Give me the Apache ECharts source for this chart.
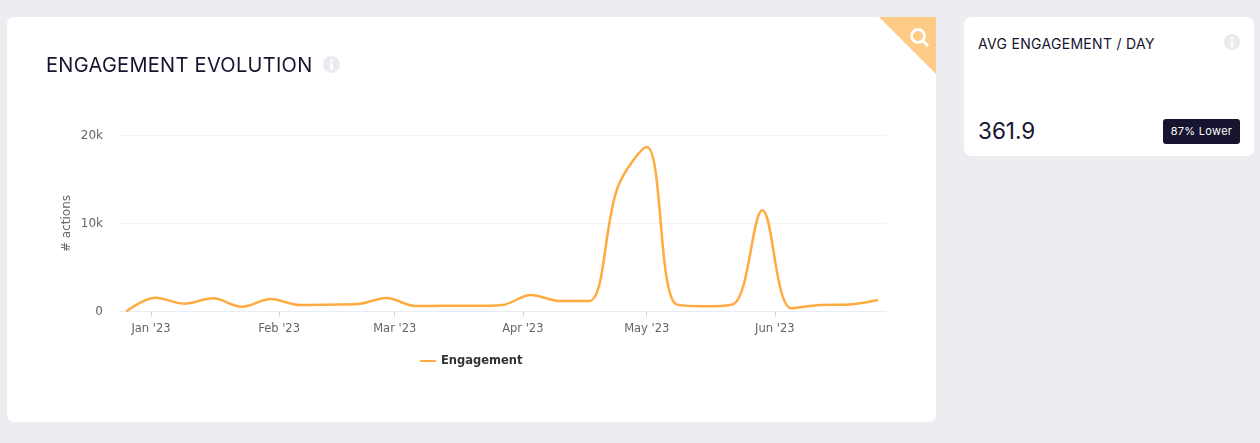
<!DOCTYPE html>
<html>
<head>
<meta charset="utf-8">
<title>Engagement evolution</title>
<script src="https://cdn.jsdelivr.net/npm/echarts@6/dist/echarts.min.js"></script>
<style>
  html, body { margin: 0; padding: 0; width: 1260px; height: 443px; overflow: hidden; background: #ebedf1; font-family: Inter, "Open Sans", sans-serif; color: #16142e; }
  .card { position: absolute; background: #fff; border-radius: 7px; }
  #mainCard { left: 7px; top: 17px; width: 929px; height: 405px; }
  #sideCard { left: 964px; top: 17px; width: 290px; height: 139px; }
  #chart { position: absolute; left: 0; top: 0; width: 929px; height: 405px; }
  .title { position: absolute; left: 39px; top: 36px; font-size: 20px; line-height: 24px; white-space: nowrap; letter-spacing: 0.3px; }
  .info { position: absolute; }
  .corner { position: absolute; right: 0; top: 0; }
  .sideTitle { position: absolute; left: 14px; top: 18px; font-size: 14px; line-height: 18px; white-space: nowrap; letter-spacing: 0.3px; }
  .value { position: absolute; left: 14px; top: 99px; font-size: 22.5px; line-height: 30px; }
  .badge { position: absolute; left: 199px; top: 102px; width: 77px; height: 25px; background: #16142e; border-radius: 3px; color: #fff; font-size: 11px; line-height: 25px; text-align: center; letter-spacing: 0.3px; }
</style>
</head>
<body>
<div class="card" id="mainCard">
  <div id="chart"></div>
  <div class="title">ENGAGEMENT EVOLUTION</div>
  <svg class="info" style="left:316px;top:39px" width="17" height="17" viewBox="0 0 17 17">
    <circle cx="8.5" cy="8.5" r="8.5" fill="#e9ebef"/>
    <circle cx="8.5" cy="4.6" r="1.5" fill="#fff"/>
    <rect x="7.1" y="7.2" width="2.8" height="6.4" fill="#fff"/>
  </svg>
  <svg class="corner" width="57" height="57" viewBox="0 0 57 57">
    <polygon points="0,0 57,0 57,57" fill="#fdcb86"/>
    <circle cx="39" cy="19" r="6.5" fill="none" stroke="#fff" stroke-width="2.8"/>
    <line x1="44" y1="24" x2="49" y2="29" stroke="#fff" stroke-width="3"/>
  </svg>
</div>
<div class="card" id="sideCard">
  <div class="sideTitle">AVG ENGAGEMENT / DAY</div>
  <svg class="info" style="left:260px;top:17px" width="16" height="16" viewBox="0 0 17 17">
    <circle cx="8.5" cy="8.5" r="8.5" fill="#e9ebef"/>
    <circle cx="8.5" cy="4.6" r="1.5" fill="#fff"/>
    <rect x="7.1" y="7.2" width="2.8" height="6.4" fill="#fff"/>
  </svg>
  <div class="value">361.9</div>
  <div class="badge">87% Lower</div>
</div>
<script>
// weekly points, first one is 26 Dec 2022
var startDate = Date.UTC(2022, 11, 26);
var weekMs = 7 * 24 * 3600 * 1000;
var engagement = [0, 1560, 890, 1500, 545, 1420, 740, 780, 850, 1530, 625, 650, 640, 740, 1870, 1190, 1190, 14150, 18700, 850, 610, 850, 11500, 360, 740, 800, 1300];
var tickDates = [Date.UTC(2023, 0, 1), Date.UTC(2023, 1, 1), Date.UTC(2023, 2, 1), Date.UTC(2023, 3, 1), Date.UTC(2023, 4, 1), Date.UTC(2023, 5, 1)];
var tickLabels = ["Jan '23", "Feb '23", "Mar '23", "Apr '23", "May '23", "Jun '23"];
var axisMin = Date.UTC(2022, 11, 24, 6);
var axisMax = Date.UTC(2023, 5, 27, 22);

var seriesData = engagement.map(function (v, i) {
  return [startDate + i * weekMs, v];
});

var chart = echarts.init(document.getElementById('chart'));
chart.setOption({
  animation: false,
  grid: { left: 112, right: 50, top: 118.5, bottom: 110.5 },
  legend: {
    data: ['Engagement'],
    left: 408,
    top: 333,
    icon: 'roundRect',
    itemWidth: 16,
    itemHeight: 2,
    itemGap: 6,
    textStyle: { fontFamily: 'DejaVu Sans', fontSize: 11.5, fontWeight: 'bold', color: '#333333' }
  },
  // plain value axis holding timestamps, the month ticks are given by hand
  xAxis: {
    type: 'value',
    min: axisMin,
    max: axisMax,
    splitLine: { show: false },
    axisLine: { lineStyle: { color: '#e6ebf5', width: 1 } },
    axisTick: { show: true, customValues: tickDates, length: 5, lineStyle: { color: '#ccd6eb' } },
    axisLabel: {
      customValues: tickDates,
      margin: 12,
      fontFamily: 'DejaVu Sans',
      fontSize: 11.5,
      color: '#666666',
      formatter: function (val) {
        return tickLabels[tickDates.indexOf(val)];
      }
    }
  },
  yAxis: {
    type: 'value',
    min: 0,
    max: 20000,
    interval: 10000,
    name: '# actions',
    nameLocation: 'middle',
    nameGap: 46,
    nameMoveOverlap: false,
    nameTextStyle: { fontFamily: 'DejaVu Sans', fontSize: 12, color: '#666666' },
    axisLine: { show: false },
    axisTick: { show: false },
    splitLine: { lineStyle: { color: '#f4f5f7', width: 1 } },
    axisLabel: {
      margin: 16,
      fontFamily: 'DejaVu Sans',
      fontSize: 12,
      color: '#666666',
      formatter: function (val) {
        return val === 0 ? '0' : (val / 1000) + 'k';
      }
    }
  },
  series: [{
    name: 'Engagement',
    type: 'line',
    data: seriesData,
    smooth: 0.35,
    showSymbol: false,
    lineStyle: { color: '#ffab40', width: 2.5 },
    itemStyle: { color: '#ffab40' }
  }]
});
</script>
</body>
</html>
